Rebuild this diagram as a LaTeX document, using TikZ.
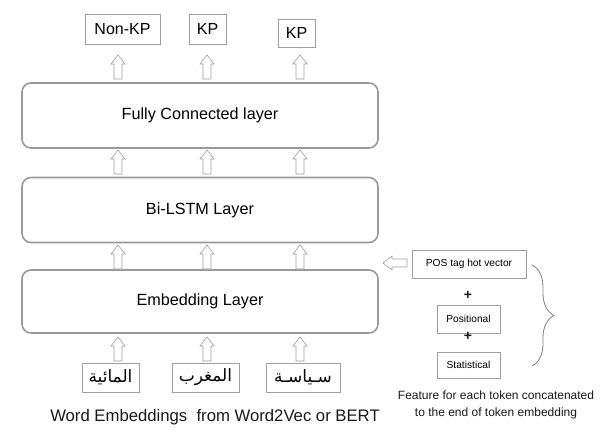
\documentclass[tikz,border=0pt]{standalone}
\usepackage{fontspec}
\setmainfont{Liberation Sans}
\newfontfamily\arabicfont[Script=Arabic]{DejaVu Sans}
\TeXXeTstate=1
\usetikzlibrary{decorations.pathreplacing}
\begin{document}
\begin{tikzpicture}[x=1pt,y=-1pt,
  layerbox/.style={draw=black!40, line width=1.6pt, rounded corners=9pt, fill=white, font=\fontsize{16.2}{18}\selectfont},
  smallbox/.style={draw=black!38, line width=0.9pt, fill=white, inner sep=0pt},
  arrowline/.style={draw=black!38, line width=0.6pt, fill=white},
  hup/.pic={\path[arrowline] (-4,0) -- (-4,-15) -- (-7,-15) -- (0,-24) -- (7,-15) -- (4,-15) -- (4,0) -- cycle;},
  hleft/.pic={\path[arrowline] (0,-4) -- (-15,-4) -- (-15,-7) -- (-24,0) -- (-15,7) -- (-15,4) -- (0,4) -- cycle;},
  txt/.style={text=black!90, inner sep=0pt},
  outfont/.style={font=\fontsize{16}{18}\selectfont},
  wordfont/.style={font=\arabicfont\fontsize{17}{19}\selectfont},
  tagfont/.style={font=\fontsize{10.2}{12}\selectfont}]
\useasboundingbox (0,0) rectangle (600,436);

% output labels
\node[smallbox, outfont, minimum width=75, minimum height=30] (o1) at (122.5,29) {Non-KP};
\node[smallbox, outfont, minimum width=37, minimum height=30] (o2) at (207.5,29) {KP};
\node[smallbox, outfont, minimum width=37, minimum height=28] (o3) at (296.5,33) {KP};

% stacked layers
\node[layerbox, minimum width=356, minimum height=65] (fc) at (200,115.5) {Fully Connected layer};
\node[layerbox, minimum width=356, minimum height=65] (lstm) at (200,210) {Bi-LSTM Layer};
\node[layerbox, minimum width=356, minimum height=63] (emb) at (200,301.5) {Embedding Layer};

% input words
\node[smallbox, wordfont, minimum width=57, minimum height=29] (w1) at (110.5,377.5) {\beginR المائية\endR};
\node[smallbox, wordfont, minimum width=67, minimum height=29] (w2) at (205.5,377.5) {\beginR المغرب\endR};
\node[smallbox, wordfont, minimum width=74, minimum height=29] (w3) at (303,377.5) {\beginR سـياسـة\endR};

\node[txt, font=\fontsize{16.7}{19}\selectfont] (cap) at (215,417) {Word Embeddings\ \ from Word2Vec or BERT};

% hollow arrows between the stages
\foreach \xx in {118,207,300} {
  \pic at (\xx,79) {hup};
  \pic at (\xx,174) {hup};
  \pic at (\xx,269) {hup};
  \pic at (\xx,361) {hup};
}

% token features
\node[smallbox, tagfont, minimum width=114, minimum height=28] (pos) at (469,264) {POS tag hot vector};
\node[txt, font=\bfseries\fontsize{14}{15}\selectfont] (p1) at (468,295) {+};
\node[smallbox, tagfont, minimum width=63, minimum height=28] (posi) at (468.5,319) {Positional};
\node[txt, font=\bfseries\fontsize{14}{15}\selectfont] (p2) at (468,336.5) {+};
\node[smallbox, tagfont, minimum width=63, minimum height=26] (stat) at (468.5,365) {Statistical};
\pic at (407,263) {hleft};

\coordinate (bt) at (532,265);
\coordinate (bb) at (532,366);
\draw[black!50, line width=0.8pt, decorate, decoration={brace, amplitude=22pt, aspect=0.5}] (bt) -- (bb);

\node[txt, font=\fontsize{12}{17}\selectfont, align=center] (feat) at (496,404.5) {Feature for each token concatenated\\to the end of token embedding};
\end{tikzpicture}
\end{document}
